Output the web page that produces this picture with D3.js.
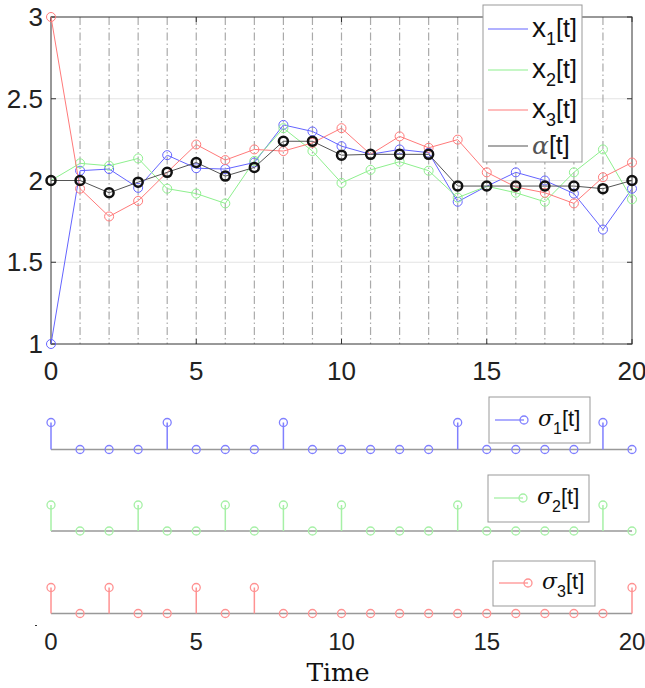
<!DOCTYPE html>
<html>
<head>
<meta charset="utf-8">
<script src="https://cdn.jsdelivr.net/npm/d3@7"></script>
<style>
  body { margin: 0; background: #fff; }
  svg { display: block; }
</style>
</head>
<body>
<svg></svg>
<script>
var t = d3.range(0, 21);

var x1 = [1, 2.06, 2.07, 1.955, 2.155, 2.075, 2.07, 2.11, 2.34, 2.30, 2.21, 2.16, 2.19, 2.17, 1.87, 1.965, 2.05, 2.0, 1.92, 1.70, 1.95];
var x2 = [2, 2.105, 2.09, 2.135, 1.95, 1.92, 1.86, 2.12, 2.32, 2.18, 1.985, 2.065, 2.115, 2.06, 1.895, 1.965, 1.925, 1.87, 2.05, 2.19, 1.885];
var x3 = [3, 1.95, 1.78, 1.875, 2.05, 2.22, 2.125, 2.19, 2.18, 2.23, 2.32, 2.16, 2.27, 2.20, 2.25, 2.05, 1.96, 1.925, 1.86, 2.02, 2.11];
var alpha = [2, 2.0, 1.925, 1.99, 2.05, 2.11, 2.027, 2.08, 2.24, 2.24, 2.155, 2.16, 2.16, 2.16, 1.966, 1.966, 1.966, 1.966, 1.966, 1.95, 2.0];

var sigma1 = [1,0,0,0,1,0,0,0,1,0,0,0,0,0,1,0,0,0,0,1,0];
var sigma2 = [1,0,0,1,0,0,1,0,1,0,1,0,0,0,1,0,0,0,0,1,0];
var sigma3 = [1,0,1,0,0,1,0,1,0,0,0,0,0,0,0,0,0,0,0,0,1];

var xTicks = [0, 5, 10, 15, 20];
var yTicks = [1, 1.5, 2, 2.5, 3];
var yGrid = [1.5, 2, 2.5];

var svgWidth = 645, svgHeight = 688;
var sans = "'Liberation Sans', Arial, sans-serif";
var serif = "'DejaVu Serif', serif";

var svg = d3.select("svg")
    .attr("width", svgWidth)
    .attr("height", svgHeight);

var x = d3.scaleLinear().domain([0, 20]).range([51, 632]);
var y = d3.scaleLinear().domain([1, 3]).range([344, 17]);

// ---- top plot ----
var topG = svg.append("g");

topG.selectAll(".hgrid")
    .data(yGrid)
    .enter().append("line")
    .attr("x1", x(0)).attr("x2", x(20))
    .attr("y1", function(d) { return y(d); })
    .attr("y2", function(d) { return y(d); })
    .attr("stroke", "#e3e3e3")
    .attr("stroke-width", 1);

topG.selectAll(".vdash")
    .data(d3.range(1, 20))
    .enter().append("line")
    .attr("x1", function(d) { return x(d); })
    .attr("x2", function(d) { return x(d); })
    .attr("y1", y(3)).attr("y2", y(1))
    .attr("stroke", "#aaa")
    .attr("stroke-width", 1.2)
    .attr("stroke-dasharray", "8,3,1.5,3");

topG.append("rect")
    .attr("x", x(0)).attr("y", y(3))
    .attr("width", x(20) - x(0)).attr("height", y(1) - y(3))
    .attr("fill", "none")
    .attr("stroke", "#333")
    .attr("stroke-width", 1);

// inward ticks
topG.selectAll(".xtb").data(xTicks).enter().append("line")
    .attr("x1", function(d) { return x(d); }).attr("x2", function(d) { return x(d); })
    .attr("y1", y(1)).attr("y2", y(1) - 5).attr("stroke", "#333");
topG.selectAll(".xtt").data(xTicks).enter().append("line")
    .attr("x1", function(d) { return x(d); }).attr("x2", function(d) { return x(d); })
    .attr("y1", y(3)).attr("y2", y(3) + 5).attr("stroke", "#333");
topG.selectAll(".ytl").data(yTicks).enter().append("line")
    .attr("x1", x(0)).attr("x2", x(0) + 5)
    .attr("y1", function(d) { return y(d); }).attr("y2", function(d) { return y(d); })
    .attr("stroke", "#333");
topG.selectAll(".ytr").data(yTicks).enter().append("line")
    .attr("x1", x(20)).attr("x2", x(20) - 5)
    .attr("y1", function(d) { return y(d); }).attr("y2", function(d) { return y(d); })
    .attr("stroke", "#333");

topG.selectAll(".ylab")
    .data(yTicks)
    .enter().append("text")
    .attr("x", 43)
    .attr("y", function(d) { return y(d) + 9; })
    .attr("text-anchor", "end")
    .attr("font-family", sans)
    .attr("font-size", 26)
    .attr("fill", "#222")
    .text(function(d) { return d; });

topG.selectAll(".xlab")
    .data(xTicks)
    .enter().append("text")
    .attr("x", function(d) { return x(d); })
    .attr("y", 380)
    .attr("text-anchor", "middle")
    .attr("font-family", sans)
    .attr("font-size", 26)
    .attr("fill", "#222")
    .text(function(d) { return d; });

var series = [
    { name: "x1", values: x1, color: "#6464ff", width: 1, r: 4.5, mw: 1 },
    { name: "x2", values: x2, color: "#8ef08e", width: 1, r: 4.5, mw: 1 },
    { name: "x3", values: x3, color: "#ff7a7a", width: 1, r: 4.5, mw: 1 },
    { name: "alpha", values: alpha, color: "#111", width: 1, r: 4.5, mw: 2.5 }
];

var line = d3.line()
    .x(function(d, i) { return x(t[i]); })
    .y(function(d) { return y(d); });

series.forEach(function(s) {
    var g = topG.append("g");
    g.append("path")
        .attr("d", line(s.values))
        .attr("fill", "none")
        .attr("stroke", s.name == "alpha" ? "#555" : s.color)
        .attr("stroke-width", s.width);
    g.selectAll("circle")
        .data(s.values)
        .enter().append("circle")
        .attr("cx", function(d, i) { return x(t[i]); })
        .attr("cy", function(d) { return y(d); })
        .attr("r", s.r)
        .attr("fill", "none")
        .attr("stroke", s.color)
        .attr("stroke-width", s.mw);
});

// legend for top plot
var leg = svg.append("g");
leg.append("rect")
    .attr("x", 483).attr("y", 5).attr("width", 99).attr("height", 157)
    .attr("fill", "#fff").attr("stroke", "#999").attr("stroke-width", 1);

var legY = [29, 70, 110, 146];
var legSub = ["1", "2", "3"];
series.forEach(function(s, i) {
    leg.append("line")
        .attr("x1", 488).attr("x2", 528)
        .attr("y1", legY[i]).attr("y2", legY[i])
        .attr("stroke", s.name == "alpha" ? "#555" : s.color)
        .attr("stroke-width", 1.2);
    var txt = leg.append("text")
        .attr("x", 532).attr("y", legY[i] + 8)
        .attr("font-family", sans)
        .attr("font-size", 25)
        .attr("fill", "#111");
    if (s.name == "alpha") {
        txt.append("tspan").attr("font-family", serif).attr("font-style", "italic").attr("fill", "#555").text("α");
        txt.append("tspan").text("[t]");
    } else {
        txt.append("tspan").attr("font-size", 28).text("x");
        txt.append("tspan").attr("font-size", 18).attr("dy", 8).text(legSub[i]);
        txt.append("tspan").attr("dy", -8).text("[t]");
    }
});

// ---- stem plots ----
var stems = [
    { values: sigma1, color: "#8080ff", base: 449.5, top: 422.5, sub: "1",
      box: [489, 397, 101, 46], ly: 420 },
    { values: sigma2, color: "#a6f0a6", base: 531, top: 505, sub: "2",
      box: [488, 475, 101, 47], ly: 498 },
    { values: sigma3, color: "#ff9292", base: 613.5, top: 587.5, sub: "3",
      box: [493, 561, 102, 45], ly: 583 }
];

stems.forEach(function(s) {
    var ys = d3.scaleLinear().domain([0, 1]).range([s.base, s.top]);
    var g = svg.append("g");
    g.append("line")
        .attr("x1", x(0)).attr("x2", x(20))
        .attr("y1", ys(0)).attr("y2", ys(0))
        .attr("stroke", "#999").attr("stroke-width", 1.5);
    g.selectAll(".stem")
        .data(s.values)
        .enter().append("line")
        .attr("x1", function(d, i) { return x(t[i]); })
        .attr("x2", function(d, i) { return x(t[i]); })
        .attr("y1", ys(0))
        .attr("y2", function(d) { return ys(d); })
        .attr("stroke", s.color).attr("stroke-width", 1.5);
    g.selectAll("circle")
        .data(s.values)
        .enter().append("circle")
        .attr("cx", function(d, i) { return x(t[i]); })
        .attr("cy", function(d) { return ys(d); })
        .attr("r", 4)
        .attr("fill", "none")
        .attr("stroke", s.color).attr("stroke-width", 1.3);

    g.append("rect")
        .attr("x", s.box[0]).attr("y", s.box[1])
        .attr("width", s.box[2]).attr("height", s.box[3])
        .attr("fill", "#fff").attr("stroke", "#999");
    g.append("line")
        .attr("x1", s.box[0] + 6).attr("x2", s.box[0] + 35)
        .attr("y1", s.ly).attr("y2", s.ly)
        .attr("stroke", s.color).attr("stroke-width", 1.3);
    g.append("circle")
        .attr("cx", s.box[0] + 35).attr("cy", s.ly).attr("r", 4)
        .attr("fill", "none").attr("stroke", s.color).attr("stroke-width", 1.3);
    var txt = g.append("text")
        .attr("x", s.box[0] + 49).attr("y", s.ly + 6)
        .attr("font-family", sans).attr("font-size", 22).attr("fill", "#111");
    txt.append("tspan").attr("font-family", serif).attr("font-style", "italic").text("σ");
    txt.append("tspan").attr("font-size", 16).attr("dy", 8).text(s.sub);
    txt.append("tspan").attr("dy", -8).text("[t]");
});

svg.append("line")
    .attr("x1", 35).attr("x2", 37).attr("y1", 625.5).attr("y2", 625.5)
    .attr("stroke", "#333");

svg.selectAll(".blab")
    .data(xTicks)
    .enter().append("text")
    .attr("x", function(d) { return x(d); })
    .attr("y", 650)
    .attr("text-anchor", "middle")
    .attr("font-family", sans)
    .attr("font-size", 24)
    .attr("fill", "#222")
    .text(function(d) { return d; });

svg.append("text")
    .attr("x", 338).attr("y", 681)
    .attr("text-anchor", "middle")
    .attr("font-family", serif)
    .attr("font-size", 25)
    .attr("fill", "#111")
    .text("Time");
</script>
</body>
</html>
